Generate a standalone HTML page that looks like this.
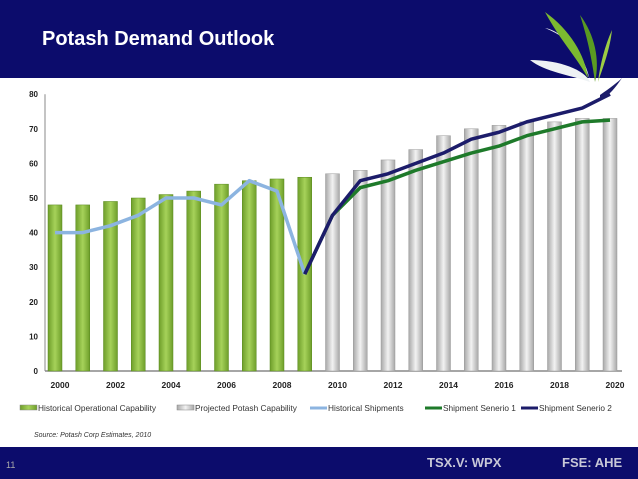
<!DOCTYPE html>
<html><head><meta charset="utf-8"><style>
body{margin:0;width:638px;height:479px;overflow:hidden;background:#fff;font-family:"Liberation Sans",sans-serif}
#hdr{position:absolute;left:0;top:0;width:638px;height:78px;background:#0c0c6c}
#title{position:absolute;left:42px;top:28px;color:#fff;font-size:20px;font-weight:bold}
#ftr{position:absolute;left:0;top:447px;width:638px;height:32px;background:#0c0c6c}
svg{position:absolute;left:0;top:0}
</style></head><body>
<div id="hdr"></div>
<div id="title">Potash Demand Outlook</div>
<div id="ftr"></div>
<svg id="c" width="638" height="479"></svg>
<script>
const years=[2000,2001,2002,2003,2004,2005,2006,2007,2008,2009,2010,2011,2012,2013,2014,2015,2016,2017,2018,2019,2020];
const capacity=[48,48,49,50,51,52,54,55,55.5,56,57,58,61,64,68,70,71,72,72,73,73];
const histShip=[40,40,42,45,50,50,48,55,52,28];
const scen1=[null,null,null,null,null,null,null,null,null,28,45,53,55,58,60.5,63,65,68,70,72,72.5];
const scen2=[null,null,null,null,null,null,null,null,null,28,45,55,57,60,63,67,69,72,74,76,80];
const yTicks=[0,10,20,30,40,50,60,70,80];
const xLabels=[2000,2002,2004,2006,2008,2010,2012,2014,2016,2018,2020];
const NS="http://www.w3.org/2000/svg",svg=document.getElementById('c');
const X=i=>55+i*27.75, Y=v=>371-v*3.46;
function mk(t,a,p){const e=document.createElementNS(NS,t);for(const k in a)e.setAttribute(k,a[k]);(p||svg).appendChild(e);return e;}
const d=mk('defs',{});
const g1=mk('linearGradient',{id:'gg',x1:0,x2:1,y1:0,y2:0},d);
mk('stop',{offset:0,'stop-color':'#6e9e2a'},g1);mk('stop',{offset:0.5,'stop-color':'#a6d25a'},g1);mk('stop',{offset:1,'stop-color':'#6e9e2a'},g1);
const g2=mk('linearGradient',{id:'gr',x1:0,x2:1,y1:0,y2:0},d);
mk('stop',{offset:0,'stop-color':'#a8a8a8'},g2);mk('stop',{offset:0.5,'stop-color':'#f2f2f2'},g2);mk('stop',{offset:1,'stop-color':'#a8a8a8'},g2);
let e=mk('line',{x1:45,y1:Y(0),x2:45,y2:Y(80),stroke:'#888','stroke-width':1});

e=mk('line',{x1:45,y1:Y(0),x2:622,y2:Y(0),stroke:'#888','stroke-width':1.5});

yTicks.forEach(v=>{const t=mk('text',{x:38,y:Y(v)+3,'text-anchor':'end','font-size':8,'font-weight':'bold',fill:'#222'});t.textContent=v;
});
xLabels.forEach(y=>{const i=years.indexOf(y);const t=mk('text',{x:X(i)+5,y:388,'text-anchor':'middle','font-size':8.5,'font-weight':'bold',fill:'#222'});t.textContent=y;
});
capacity.forEach((v,i)=>{const r=mk('rect',{x:X(i)-7,y:Y(v),width:14,height:Y(0)-Y(v),fill:i<10?'url(#gg)':'url(#gr)',stroke:i<10?'#5a8a20':'#999','stroke-width':0.5});
});
function line(arr,col,name){const pts=[];arr.forEach((v,i)=>{if(v!=null)pts.push(X(i)+','+Y(v));});
const p=mk('polyline',{points:pts.join(' '),fill:'none',stroke:col,'stroke-width':3.5,'stroke-linejoin':'round'});
}
line(histShip,'#8cb4e0','historical-shipments-line');
line(scen1,'#1e7a2a','shipment-scenario-1-line');
line(scen2,'#1c1c6a','shipment-scenario-2-line');
const leg=[['rect','url(#gg)','Historical Operational Capability',20],['rect','url(#gr)','Projected Potash Capability',177],['line','#8cb4e0','Historical Shipments',310],['line','#1e7a2a','Shipment Senerio 1',425],['line','#1c1c6a','Shipment Senerio 2',521]];
leg.forEach(l=>{const g=mk('g',{});
if(l[0]=='rect')mk('rect',{x:l[3],y:405,width:17,height:5,fill:l[1],stroke:'#888','stroke-width':0.5},g);
else mk('line',{x1:l[3],y1:408,x2:l[3]+17,y2:408,stroke:l[1],'stroke-width':3},g);
const t=mk('text',{x:l[3]+18,y:411,'font-size':8.3,fill:'#333'},g);t.textContent=l[2];});
e=mk('text',{x:34,y:437,'font-size':7,'font-style':'italic',fill:'#333'});e.textContent='Source: Potash Corp Estimates, 2010';

e=mk('text',{x:6,y:468,'font-size':9,fill:'#aaa'});e.textContent='11';
e=mk('text',{x:427,y:467,'font-size':13,'font-weight':'bold',fill:'#c8c8d8'});e.textContent='TSX.V: WPX';
e=mk('text',{x:562,y:467,'font-size':13,'font-weight':'bold',fill:'#c8c8d8'});e.textContent='FSE: AHE';
const lg=mk('g',{});
mk('path',{d:'M545 28 C560 30 580 50 590 80 C585 60 575 40 545 28Z',fill:'#e8eef0'},lg);
mk('path',{d:'M530 60 C560 60 585 70 590 82 C570 75 545 72 530 60Z',fill:'#eef2f4'},lg);
mk('path',{d:'M545 12 C570 30 585 55 588 78 C575 55 560 40 545 12Z',fill:'#7cba30'},lg);
mk('path',{d:'M580 15 C595 35 600 60 595 82 C592 60 588 40 580 15Z',fill:'#5a9a22'},lg);
mk('path',{d:'M612 30 C605 45 600 65 598 82 C605 62 610 48 612 30Z',fill:'#9ccc44'},lg);
mk('path',{d:'M600 95 C610 88 618 82 622 78 C615 88 610 95 600 100Z',fill:'#1c1c6a'},lg);
</script>
</body></html>
